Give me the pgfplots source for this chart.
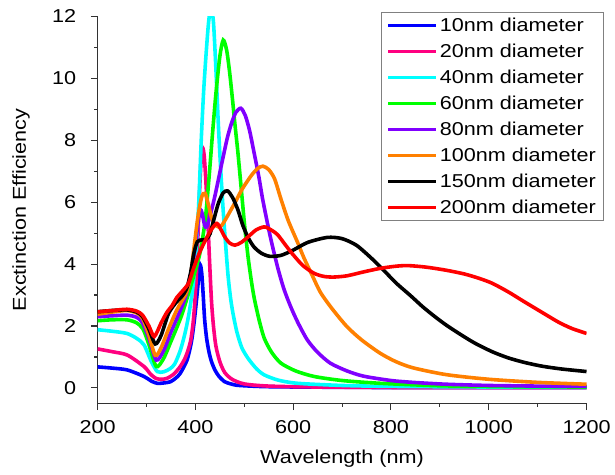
\documentclass[border=0pt]{standalone}
\usepackage{fontspec}
\setmainfont{Liberation Sans}[FakeStretch=1.16]
\usepackage{pgfplots}
\pgfplotsset{compat=1.18}
\definecolor{cBlue}{RGB}{0,0,255}
\definecolor{cPink}{RGB}{255,0,128}
\definecolor{cCyan}{RGB}{0,255,255}
\definecolor{cGreen}{RGB}{0,255,0}
\definecolor{cPurple}{RGB}{128,0,255}
\definecolor{cOrange}{RGB}{255,128,0}
\definecolor{cRed}{RGB}{255,0,0}
\definecolor{axgray}{RGB}{50,50,50}
\begin{document}
\begin{tikzpicture}
\begin{axis}[
  scale only axis, width=367.5pt, height=291pt,
  xmin=200, xmax=1200, ymin=-0.5, ymax=12,
  axis x line*=bottom, axis y line*=left,
  axis line style={axgray, line width=1pt},
  tick align=outside,
  tick style={axgray, line width=0.8pt},
  major tick length=5pt, minor tick length=2.5pt,
  xtick={200,400,...,1200}, ytick={0,2,...,12},
  minor x tick num=1, minor y tick num=1,
  /pgf/number format/assume math mode=true,
  /pgf/number format/set thousands separator={},
  tick label style={font=\fontsize{14}{17}\selectfont},
  yticklabel style={xshift=-7.5pt},
  xticklabel style={yshift=-4.3pt},
  label style={font=\fontsize{14}{17}\selectfont},
  xlabel={Wavelength (nm)}, ylabel={Exctinction Efficiency},
  xlabel style={yshift=-5.7pt},
  ylabel style={yshift=10pt},
  legend style={at={(1.036,1.0103)}, anchor=north east, draw=gray, line width=0.8pt,
    font=\fontsize{14}{17}\selectfont, row sep=3.9pt, inner xsep=3.8pt, inner ysep=2pt},
  legend cell align=left,
  legend image code/.code={\draw[#1, line width=2.3pt] (0cm,0cm) -- (1.25cm,0cm);},
  every axis plot/.append style={line width=2.7pt, smooth, tension=0.45},
]
\addplot[cBlue] coordinates {(200,0.68)(230,0.64)(261,0.58)(295,0.37)(310,0.22)(322,0.15)(335,0.16)(349,0.2)(360,0.32)(369,0.47)(383,0.9)(392,1.5)(398,2.2)(403,2.95)(407,3.6)(410,3.97)(413,3.7)(416,3.0)(419,2.2)(423,1.6)(428,1.15)(433,0.85)(440,0.58)(448,0.38)(460,0.2)(475,0.12)(490,0.08)(550,0.04)(700,0.02)(900,0.01)(1200,0.01)};
\addlegendentry{10nm diameter}
\addplot[cPink] coordinates {(200,1.26)(230,1.17)(261,1.06)(295,0.69)(308,0.45)(319,0.31)(330,0.28)(342,0.31)(356,0.45)(369,0.69)(380,1.0)(390,1.5)(396,2.2)(401,3.3)(405,4.8)(409,6.5)(412,7.4)(415,7.75)(418,7.5)(421,6.8)(425,5.6)(429,4.1)(433,2.8)(437,2.0)(442,1.35)(450,0.85)(460,0.5)(475,0.28)(500,0.13)(550,0.06)(650,0.03)(900,0.01)(1200,0.01)};
\addlegendentry{20nm diameter}
\addplot[cCyan] coordinates {(200,1.88)(230,1.83)(260,1.76)(280,1.6)(295,1.39)(310,0.85)(322,0.53)(335,0.52)(348,0.62)(358,0.78)(370,1.25)(380,1.85)(388,2.5)(396,3.4)(402,4.6)(407,6.0)(412,8.0)(417,9.6)(422,10.8)(427,11.8)(432,12.3)(437,11.8)(442,10.3)(447,8.5)(452,7.0)(457,5.7)(462,4.6)(467,3.6)(472,2.9)(477,2.4)(485,1.8)(495,1.3)(508,0.95)(525,0.62)(541,0.42)(570,0.25)(609,0.15)(700,0.08)(800,0.05)(1000,0.03)(1200,0.02)};
\addlegendentry{40nm diameter}
\addplot[cGreen] coordinates {(200,2.17)(230,2.2)(260,2.2)(280,2.1)(293,1.9)(305,1.4)(320,0.69)(335,0.95)(350,1.5)(362,1.95)(372,2.35)(385,3.0)(400,3.8)(410,4.4)(420,5.4)(428,6.8)(435,8.2)(442,9.5)(450,10.7)(457,11.23)(464,10.9)(470,10.2)(476,9.3)(481,8.5)(487,7.6)(494,6.4)(501,5.2)(508,4.2)(515,3.4)(521,2.85)(531,2.15)(541,1.6)(556,1.15)(575,0.8)(605,0.55)(643,0.37)(700,0.24)(778,0.15)(900,0.07)(1050,0.04)(1200,0.03)};
\addlegendentry{60nm diameter}
\addplot[cPurple] coordinates {(200,2.3)(230,2.33)(260,2.35)(280,2.28)(292,2.1)(305,1.6)(320,0.9)(335,1.2)(350,1.8)(365,2.35)(380,2.95)(392,3.8)(400,4.6)(406,5.4)(411,5.75)(415,5.55)(419,5.25)(423,5.2)(430,5.55)(440,6.2)(454,7.25)(465,8.05)(474,8.55)(483,8.9)(493,9.03)(502,8.8)(511,8.3)(520,7.6)(530,6.8)(538,6.06)(553,4.9)(568,3.91)(581,3.2)(595,2.62)(610,2.1)(629,1.55)(650,1.15)(676,0.8)(710,0.55)(744,0.38)(800,0.24)(845,0.18)(913,0.12)(1000,0.08)(1100,0.06)(1200,0.05)};
\addlegendentry{80nm diameter}
\addplot[cOrange] coordinates {(200,2.38)(230,2.45)(260,2.5)(280,2.42)(292,2.25)(305,1.7)(318,1.05)(330,1.3)(345,1.9)(360,2.45)(372,2.8)(382,3.1)(390,3.6)(397,4.5)(405,5.5)(413,6.17)(420,6.28)(427,5.9)(433,5.5)(440,5.28)(447,5.2)(454,5.25)(462,5.45)(471,5.7)(481,5.98)(495,6.4)(514,6.85)(527,7.08)(538,7.16)(550,7.05)(562,6.75)(575,6.1)(590,5.4)(609,4.7)(622,4.2)(640,3.6)(656,3.08)(680,2.55)(710,1.98)(740,1.55)(778,1.12)(810,0.85)(845,0.65)(913,0.43)(1000,0.28)(1100,0.18)(1200,0.12)};
\addlegendentry{100nm diameter}
\addplot[black] coordinates {(200,2.46)(230,2.5)(260,2.52)(280,2.45)(292,2.3)(305,1.9)(318,1.42)(330,1.7)(345,2.4)(360,2.75)(372,2.95)(382,3.2)(390,3.7)(397,4.35)(404,4.72)(413,4.78)(422,4.8)(430,4.98)(438,5.45)(447,5.96)(457,6.3)(466,6.36)(476,6.15)(487,5.75)(497,5.25)(508,4.85)(520,4.55)(535,4.35)(552,4.25)(575,4.28)(600,4.45)(630,4.7)(670,4.86)(700,4.82)(730,4.6)(764,4.13)(790,3.72)(811,3.38)(840,2.98)(865,2.62)(890,2.3)(913,2.03)(939,1.76)(970,1.46)(1007,1.17)(1040,0.97)(1074,0.82)(1110,0.7)(1150,0.61)(1200,0.53)};
\addlegendentry{150nm diameter}
\addplot[cRed] coordinates {(200,2.46)(230,2.5)(260,2.54)(280,2.48)(292,2.35)(305,2.0)(316,1.66)(330,2.1)(342,2.45)(352,2.65)(362,2.92)(372,3.1)(386,3.38)(396,3.85)(408,4.35)(420,4.75)(432,5.1)(444,5.31)(452,5.12)(460,4.88)(470,4.68)(481,4.61)(494,4.7)(508,4.88)(524,5.1)(541,5.2)(555,5.1)(568,4.95)(585,4.6)(600,4.3)(620,3.95)(643,3.7)(663,3.6)(683,3.58)(710,3.62)(745,3.75)(778,3.86)(810,3.93)(835,3.95)(872,3.9)(913,3.8)(950,3.68)(980,3.54)(1007,3.38)(1040,3.1)(1074,2.77)(1110,2.43)(1142,2.13)(1170,1.92)(1200,1.76)};
\addlegendentry{200nm diameter}
\end{axis}
\path (current bounding box.west) ++(-6pt,0);
\path (current bounding box.north) ++(0,4pt);
\path (current bounding box.south) ++(0,-2pt);
\end{tikzpicture}
\end{document}
